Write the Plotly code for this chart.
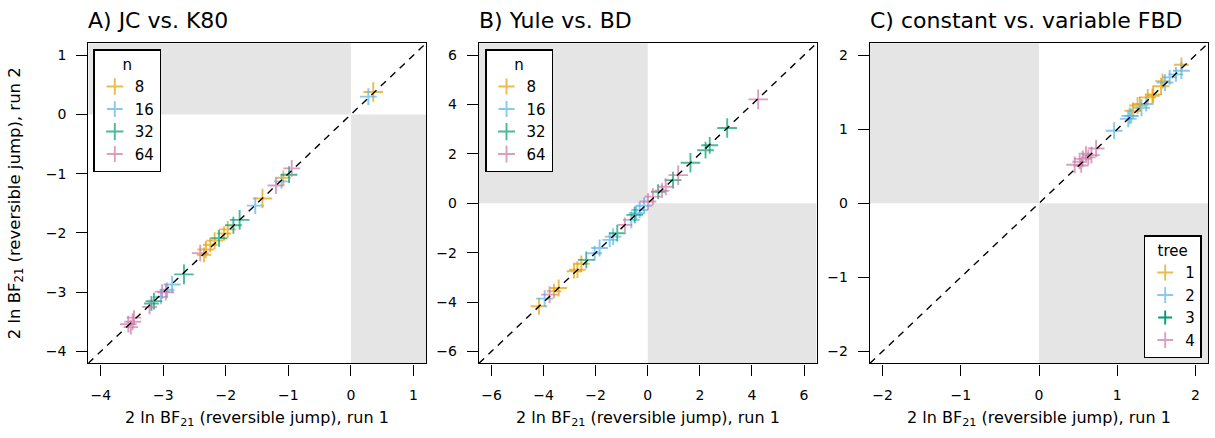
import plotly.graph_objects as go

# ---------------- data ----------------
colors = ["#E69F00", "#56B4E9", "#009E73", "#CC79A7"]
n_levels = ["8", "16", "32", "64"]
tree_levels = ["1", "2", "3", "4"]

# Panel A: JC vs. K80 (x = run 1, y = run 2), grouped by n; tree = second factor
a_x_8 = [0.357, -1.08, -1.415, -1.97, -2.03, -2.18, -2.25, -2.32, -2.35]
a_y_8 = [0.378, -1.07, -1.42, -1.94, -2.01, -2.13, -2.20, -2.28, -2.37]
a_t_8 = [4, 2, 4, 3, 2, 3, 2, 3, 2]
a_x_16 = [0.278, -1.11, -1.53, -2.86, -2.94, -3.04]
a_y_16 = [0.30, -1.13, -1.54, -2.87, -2.96, -3.08]
a_t_16 = [3, 2, 3, 3, 2, 2]
a_x_32 = [-0.99, -1.78, -1.88, -2.11, -2.67, -3.15, -3.19]
a_y_32 = [-1.017, -1.78, -1.87, -2.09, -2.70, -3.15, -3.19]
a_t_32 = [3, 4, 3, 3, 4, 3, 2]
a_x_64 = [-0.947, -1.20, -2.41, -2.96, -3.02, -3.22, -3.47, -3.49, -3.56, -3.52]
a_y_64 = [-0.91, -1.20, -2.34, -3.00, -2.99, -3.25, -3.43, -3.50, -3.54, -3.59]
a_t_64 = [3, 3, 3, 3, 2, 2, 2, 3, 3, 2]

# Panel B: Yule vs. BD
b_x_8 = [-2.55, -2.70, -2.83, -3.42, -3.60, -4.18]
b_y_8 = [-2.45, -2.69, -2.75, -3.43, -3.56, -4.17]
b_t_8 = [3, 3, 2, 3, 2, 3]
b_x_16 = [-0.14, -0.31, -0.44, -0.63, -1.33, -1.46, -1.85, -2.04, -3.96]
b_y_16 = [-0.10, -0.27, -0.40, -0.67, -1.35, -1.48, -1.81, -2.02, -3.86]
b_t_16 = [3, 3, 2, 3, 3, 2, 3, 2, 3]
b_x_32 = [3.05, 2.38, 2.22, 1.64, 0.97, 0.40, -0.50, -1.17, -2.36]
b_y_32 = [3.05, 2.35, 2.15, 1.64, 0.94, 0.47, -0.47, -1.21, -2.29]
b_t_32 = [4, 3, 3, 4, 3, 2, 3, 3, 3]
b_x_64 = [4.24, 1.17, 0.69, 0.55, 0.20, 0.01, -0.88, -3.77]
b_y_64 = [4.21, 1.14, 0.67, 0.51, 0.27, 0.07, -0.875, -3.70]
b_t_64 = [4, 4, 3, 2, 3, 3, 2, 3]

# Panel C: constant vs. variable FBD, grouped by tree; n = second factor
c_x_1 = [1.26, 1.39, 1.45, 1.56, 1.58, 1.46, 1.29, 1.20, 1.82]
c_y_1 = [1.32, 1.43, 1.45, 1.58, 1.65, 1.47, 1.34, 1.25, 1.87]
c_n_1 = [3, 3, 2, 3, 2, 3, 2, 3, 2]
c_x_2 = [0.96, 1.14, 1.18, 1.31, 1.37, 1.61, 1.82, 1.75, 1.67, 1.16]
c_y_2 = [0.98, 1.14, 1.18, 1.29, 1.34, 1.63, 1.79, 1.74, 1.70, 1.18]
c_n_2 = [3, 3, 2, 3, 2, 3, 3, 2, 2, 3]
c_x_3 = []
c_y_3 = []
c_n_3 = []
c_x_4 = [0.456, 0.52, 0.56, 0.63, 0.60, 0.67, 0.73, 0.54]
c_y_4 = [0.52, 0.56, 0.60, 0.62, 0.67, 0.65, 0.74, 0.51]
c_n_4 = [3, 2, 3, 2, 2, 3, 3, 2]

a_ticks = [-4, -3, -2, -1, 0, 1]
b_ticks = [-6, -4, -2, 0, 2, 4, 6]
c_ticks = [-2, -1, 0, 1, 2]

# ---------------- style ----------------
W, H = 1215, 438
FONT = "DejaVu Sans, Verdana, sans-serif"
size_map = {1: 9, 2: 10.5, 3: 12, 4: 14}
GRAY = "#E5E5E5"


def fx(px):
    return px / W


def fy(py):
    return 1 - py / H


def expand(lo, hi):
    d = (hi - lo) * 0.04
    return [lo - d, hi + d]


panels = [
    dict(key="", left=88.3, right=426.0, rng=expand(-4, 1), ticks=a_ticks,
         title="A) JC vs. K80", legend="legend",
         series=[(a_x_8, a_y_8, a_t_8), (a_x_16, a_y_16, a_t_16),
                 (a_x_32, a_y_32, a_t_32), (a_x_64, a_y_64, a_t_64)],
         names=n_levels),
    dict(key="2", left=479.0, right=816.5, rng=expand(-6, 6), ticks=b_ticks,
         title="B) Yule vs. BD", legend="legend2",
         series=[(b_x_8, b_y_8, b_t_8), (b_x_16, b_y_16, b_t_16),
                 (b_x_32, b_y_32, b_t_32), (b_x_64, b_y_64, b_t_64)],
         names=n_levels),
    dict(key="3", left=870.0, right=1208.0, rng=expand(-2, 2), ticks=c_ticks,
         title="C) constant vs. variable FBD", legend="legend3",
         series=[(c_x_1, c_y_1, c_n_1), (c_x_2, c_y_2, c_n_2),
                 (c_x_3, c_y_3, c_n_3), (c_x_4, c_y_4, c_n_4)],
         names=tree_levels),
]

TOP, BOTTOM = 43.3, 363.3

fig = go.Figure()
shapes = []
annotations = []
layout = dict(
    width=W, height=H,
    margin=dict(l=0, r=0, t=0, b=0),
    paper_bgcolor="white", plot_bgcolor="white",
    font=dict(family=FONT, color="black"),
)

axis_common = dict(
    showline=True, mirror=True, linecolor="black", linewidth=1.4,
    ticks="outside", ticklen=11, tickwidth=1.3, tickcolor="black",
    showgrid=False, zeroline=False,
    tickfont=dict(family=FONT, size=14, color="black"),
    tickmode="array",
)

xtitle = "2 ln BF<sub>21</sub> (reversible jump), run 1"
ytitle = "2 ln BF<sub>21</sub> (reversible jump), run 2"

for p in panels:
    k = p["key"]
    xa, ya = "x" + k, "y" + k
    lo, hi = p["rng"]
    layout["xaxis" + k] = dict(axis_common, domain=[fx(p["left"]), fx(p["right"])],
                               range=p["rng"], tickvals=p["ticks"], anchor=ya,
                               ticklabelstandoff=8)
    layout["yaxis" + k] = dict(axis_common, domain=[fy(BOTTOM), fy(TOP)],
                               range=p["rng"], tickvals=p["ticks"], anchor=xa,
                               ticklabelstandoff=7)
    # shaded quadrants (sign disagreement)
    shapes.append(dict(type="rect", xref=xa, yref=ya, x0=lo, x1=0, y0=0, y1=hi,
                       fillcolor=GRAY, line=dict(width=0), layer="below"))
    shapes.append(dict(type="rect", xref=xa, yref=ya, x0=0, x1=hi, y0=lo, y1=0,
                       fillcolor=GRAY, line=dict(width=0), layer="below"))
    # identity line
    shapes.append(dict(type="line", xref=xa, yref=ya, x0=lo, y0=lo, x1=hi, y1=hi,
                       line=dict(color="black", width=1.4, dash="7px,6px"), layer="above"))
    # panel title
    annotations.append(dict(text=p["title"], xref="paper", yref="paper",
                            x=fx(p["left"] - 2), y=fy(21), xanchor="left", yanchor="middle",
                            showarrow=False, font=dict(family=FONT, size=22, color="black")))
    annotations.append(dict(text=xtitle, xref="paper", yref="paper",
                            x=fx((p["left"] + p["right"]) / 2), y=fy(418),
                            xanchor="center", yanchor="middle", showarrow=False,
                            font=dict(family=FONT, size=16, color="black")))
    for (xs, ys, ss), name, col in zip(p["series"], p["names"], colors):
        fig.add_trace(go.Scatter(
            x=xs if xs else [None], y=ys if ys else [None],
            mode="markers", name=name, legend=p["legend"],
            xaxis=xa, yaxis=ya, cliponaxis=False,
            marker=dict(symbol="cross-thin", color=col,
                        size=[size_map[s] for s in ss] if ss else 10,
                        line=dict(color=col, width=1.9)),
            hoverinfo="x+y+name",
        ))

annotations.append(dict(text=ytitle, xref="paper", yref="paper",
                        x=fx(15), y=fy((TOP + BOTTOM) / 2), textangle=-90,
                        xanchor="center", yanchor="middle", showarrow=False,
                        font=dict(family=FONT, size=16.5, color="black")))

leg_common = dict(bgcolor="white", bordercolor="black", borderwidth=1.5,
                  font=dict(family=FONT, size=15, color="black"),
                  tracegroupgap=0)
layout["legend"] = dict(leg_common, x=fx(93.3), y=fy(49.3), xanchor="left", yanchor="top",
                        title=dict(text="n", side="top center", font=dict(family=FONT, size=15)))
layout["legend2"] = dict(leg_common, x=fx(485), y=fy(49.3), xanchor="left", yanchor="top",
                         title=dict(text="n", side="top center", font=dict(family=FONT, size=15)))
layout["legend3"] = dict(leg_common, x=fx(1201.7), y=fy(358.3), xanchor="right", yanchor="bottom",
                         title=dict(text="tree", side="top center", font=dict(family=FONT, size=15)))

layout["shapes"] = shapes
layout["annotations"] = annotations
layout["showlegend"] = True
fig.update_layout(**layout)

fig.write_html("out.html", config={"displayModeBar": False},
               post_script="document.body.style.margin='0px';")
